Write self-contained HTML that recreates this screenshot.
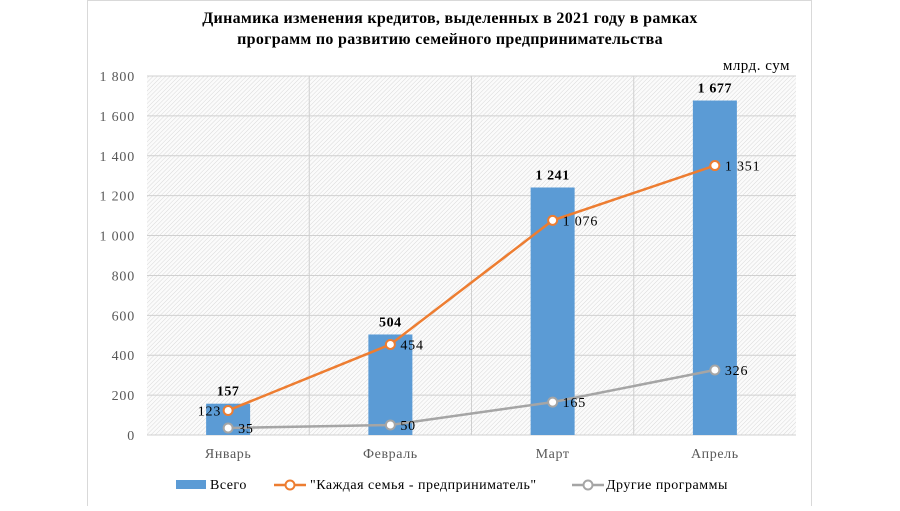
<!DOCTYPE html>
<html><head><meta charset="utf-8"><style>
body{margin:0;background:#fff;}
svg text{font-family:"Liberation Serif",serif;}
</style></head><body>
<svg width="900" height="506" xmlns="http://www.w3.org/2000/svg">
<defs><pattern id="h" width="3" height="3" patternUnits="userSpaceOnUse" patternTransform="rotate(45)"><rect width="3" height="3" fill="#fbfbfb"/><line x1="0" y1="0" x2="0" y2="3" stroke="#d9d9d9" stroke-width="1"/></pattern></defs>
<rect x="87.5" y="0.5" width="724" height="510" fill="#fff" stroke="#d9d9d9"/>
<text x="450" y="23" text-anchor="middle" font-weight="bold" font-size="16" letter-spacing="0.3">Динамика изменения кредитов, выделенных в 2021 году в рамках</text>
<text x="450" y="44" text-anchor="middle" font-weight="bold" font-size="16" letter-spacing="0.3">программ по развитию семейного предпринимательства</text>
<text x="790" y="70" text-anchor="end" font-size="15" letter-spacing="0.5">млрд. сум</text>
<rect x="147" y="76" width="649" height="359" fill="url(#h)"/>
<g id="grid"></g><g id="bars"></g><g id="lines"></g><g id="labels"></g>
<g font-size="14" letter-spacing="0.5">
<rect x="176" y="480" width="30" height="9" fill="#5b9bd5"/>
<text x="210" y="489">Всего</text>
<line x1="274" y1="485" x2="306" y2="485" stroke="#ed7d31" stroke-width="2.5"/><circle cx="290" cy="485" r="4.5" fill="#fff" stroke="#ed7d31" stroke-width="2"/>
<text x="310" y="489">"Каждая семья - предприниматель"</text>
<line x1="572" y1="485" x2="604" y2="485" stroke="#a5a5a5" stroke-width="2.5"/><circle cx="588" cy="485" r="4.5" fill="#fff" stroke="#a5a5a5" stroke-width="2"/>
<text x="606" y="489">Другие программы</text>
</g>
</svg>
<script>
const categories=["Январь","Февраль","Март","Апрель"];
const totalValues=[157,504,1241,1677];
const familyValues=[123,454,1076,1351];
const otherValues=[35,50,165,326];
const yTicks=[0,200,400,600,800,1000,1200,1400,1600,1800];
const NS="http://www.w3.org/2000/svg";
const X0=147,W=649,Y0=435,H=359,MAX=1800;
const y=v=>Y0-v/MAX*H;
const x=i=>X0+(i+0.5)*W/categories.length;
function mk(tag,attrs,parent,txt){const e=document.createElementNS(NS,tag);for(const k in attrs)e.setAttribute(k,attrs[k]);if(txt!==undefined)e.textContent=txt;document.getElementById(parent).appendChild(e);return e;}
const fmt=v=>String(v).replace(/\B(?=(\d{3})+(?!\d))/g," ");
yTicks.forEach(t=>{
 const l=mk('line',{x1:X0,x2:X0+W,y1:y(t),y2:y(t),stroke:'#d0d0d0','stroke-width':1},'grid');
 
 
 const tx=mk('text',{x:135,y:y(t)+5,'text-anchor':'end','font-size':14,'letter-spacing':0.8,fill:'#595959'},'grid',fmt(t));
 
 
});
for(let i=1;i<categories.length;i++){
 const l=mk('line',{x1:X0+i*W/4,x2:X0+i*W/4,y1:76,y2:Y0,stroke:'#d0d0d0'},'grid');
 
 
}
categories.forEach((c,i)=>{
 const t=mk('text',{x:x(i),y:458,'text-anchor':'middle','font-size':14,'letter-spacing':0.6,fill:'#595959'},'grid',c);
 
 
 const b=mk('rect',{x:x(i)-22,y:y(totalValues[i]),width:44,height:Y0-y(totalValues[i]),fill:'#5b9bd5'},'bars');
 
 
 const bl=mk('text',{x:x(i),y:y(totalValues[i])-8,'text-anchor':'middle','font-size':14,'letter-spacing':0.6,'font-weight':'bold'},'labels',fmt(totalValues[i]));
 
 
});
function series(vals,color,name){
 const p=mk('polyline',{points:vals.map((v,i)=>x(i)+','+y(v)).join(' '),fill:'none',stroke:color,'stroke-width':2.5},'lines');
 
 
 vals.forEach((v,i)=>{
  const c=mk('circle',{cx:x(i),cy:y(v),r:4.5,fill:'#fff',stroke:color,'stroke-width':2},'lines');
  
  
  const left=i===0&&name==='family';
  const t=mk('text',{x:left?x(i)-7:x(i)+10,y:y(v)+5,'text-anchor':left?'end':'start','font-size':14,'letter-spacing':0.8},'labels',fmt(v));
  
  
 });
}
series(familyValues,'#ed7d31','family');
series(otherValues,'#a5a5a5','other');
</script>
</body></html>
